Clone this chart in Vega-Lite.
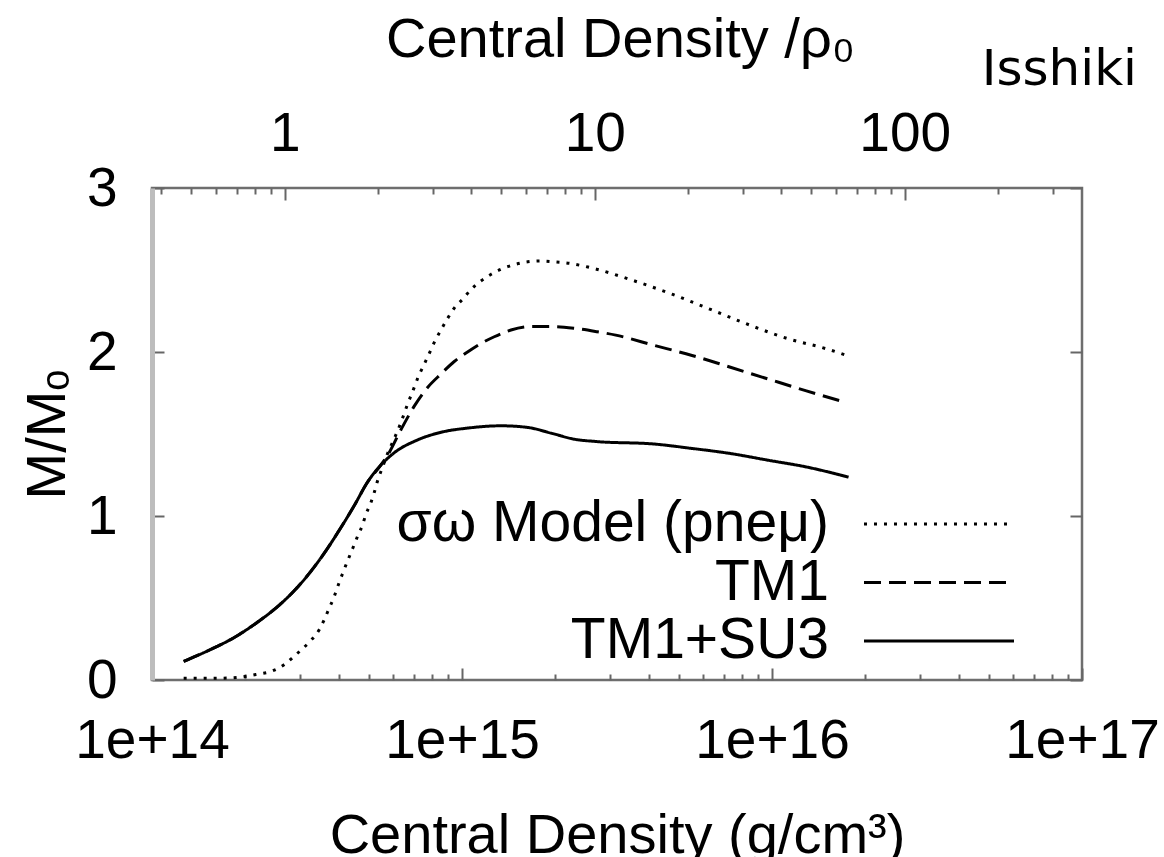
{
  "$schema": "https://vega.github.io/schema/vega-lite/v6.json",
  "width": 930,
  "height": 492,
  "autosize": {"type": "none"},
  "padding": {"left": 152, "top": 188, "right": 82, "bottom": 177},
  "background": "white",
  "title": {"text": "Isshiki", "anchor": "end", "frame": "group", "orient": "top", "font": "DejaVu Sans", "fontSize": 50, "fontWeight": "normal", "color": "black", "baseline": "alphabetic", "offset": -124, "dx": 55},
  "config": {
    "view": {"stroke": "#6e6e6e", "strokeWidth": 2.5},
    "axis": {"grid": false, "labelFont": "Liberation Sans", "titleFont": "Liberation Sans", "labelColor": "black", "titleColor": "black", "tickColor": "#666", "tickWidth": 2, "labelFlush": false, "labelOverlap": false, "titleFontWeight": "normal"}
  },
  "data": {"values": [
    {"model": "TM1+SU3", "rho": 1.265e14, "M": 0.113},
    {"model": "TM1+SU3", "rho": 1.545e14, "M": 0.186},
    {"model": "TM1+SU3", "rho": 1.837e14, "M": 0.258},
    {"model": "TM1+SU3", "rho": 2.183e14, "M": 0.351},
    {"model": "TM1+SU3", "rho": 2.600e14, "M": 0.464},
    {"model": "TM1+SU3", "rho": 3.020e14, "M": 0.588},
    {"model": "TM1+SU3", "rho": 3.499e14, "M": 0.742},
    {"model": "TM1+SU3", "rho": 4.064e14, "M": 0.928},
    {"model": "TM1+SU3", "rho": 4.487e14, "M": 1.062},
    {"model": "TM1+SU3", "rho": 4.955e14, "M": 1.206},
    {"model": "TM1+SU3", "rho": 5.470e14, "M": 1.310},
    {"model": "TM1+SU3", "rho": 6.039e14, "M": 1.385},
    {"model": "TM1+SU3", "rho": 7.194e14, "M": 1.464},
    {"model": "TM1+SU3", "rho": 8.770e14, "M": 1.515},
    {"model": "TM1+SU3", "rho": 1.042e15, "M": 1.536},
    {"model": "TM1+SU3", "rho": 1.337e15, "M": 1.550},
    {"model": "TM1+SU3", "rho": 1.629e15, "M": 1.540},
    {"model": "TM1+SU3", "rho": 1.941e15, "M": 1.505},
    {"model": "TM1+SU3", "rho": 2.307e15, "M": 1.468},
    {"model": "TM1+SU3", "rho": 2.716e15, "M": 1.454},
    {"model": "TM1+SU3", "rho": 4.159e15, "M": 1.439},
    {"model": "TM1+SU3", "rho": 5.521e15, "M": 1.412},
    {"model": "TM1+SU3", "rho": 7.345e15, "M": 1.381},
    {"model": "TM1+SU3", "rho": 9.727e15, "M": 1.340},
    {"model": "TM1+SU3", "rho": 1.291e16, "M": 1.299},
    {"model": "TM1+SU3", "rho": 1.766e16, "M": 1.237},
    {"model": "TM1", "rho": 1.265e14, "M": 0.113},
    {"model": "TM1", "rho": 1.545e14, "M": 0.186},
    {"model": "TM1", "rho": 1.837e14, "M": 0.258},
    {"model": "TM1", "rho": 2.183e14, "M": 0.351},
    {"model": "TM1", "rho": 2.600e14, "M": 0.464},
    {"model": "TM1", "rho": 3.020e14, "M": 0.588},
    {"model": "TM1", "rho": 3.499e14, "M": 0.742},
    {"model": "TM1", "rho": 4.064e14, "M": 0.928},
    {"model": "TM1", "rho": 4.487e14, "M": 1.062},
    {"model": "TM1", "rho": 4.955e14, "M": 1.206},
    {"model": "TM1", "rho": 5.470e14, "M": 1.310},
    {"model": "TM1", "rho": 5.754e14, "M": 1.370},
    {"model": "TM1", "rho": 6.353e14, "M": 1.526},
    {"model": "TM1", "rho": 7.015e14, "M": 1.670},
    {"model": "TM1", "rho": 7.745e14, "M": 1.784},
    {"model": "TM1", "rho": 8.551e14, "M": 1.866},
    {"model": "TM1", "rho": 9.441e14, "M": 1.942},
    {"model": "TM1", "rho": 1.042e15, "M": 2.000},
    {"model": "TM1", "rho": 1.151e15, "M": 2.052},
    {"model": "TM1", "rho": 1.271e15, "M": 2.093},
    {"model": "TM1", "rho": 1.439e15, "M": 2.134},
    {"model": "TM1", "rho": 1.671e15, "M": 2.155},
    {"model": "TM1", "rho": 1.941e15, "M": 2.155},
    {"model": "TM1", "rho": 2.307e15, "M": 2.144},
    {"model": "TM1", "rho": 2.716e15, "M": 2.124},
    {"model": "TM1", "rho": 3.133e15, "M": 2.103},
    {"model": "TM1", "rho": 4.159e15, "M": 2.041},
    {"model": "TM1", "rho": 5.521e15, "M": 1.979},
    {"model": "TM1", "rho": 7.345e15, "M": 1.907},
    {"model": "TM1", "rho": 9.727e15, "M": 1.835},
    {"model": "TM1", "rho": 1.291e16, "M": 1.763},
    {"model": "TM1", "rho": 1.742e16, "M": 1.691},
    {"model": "σω Model (pneμ)", "rho": 1.265e14, "M": 0.010},
    {"model": "σω Model (pneμ)", "rho": 1.545e14, "M": 0.010},
    {"model": "σω Model (pneμ)", "rho": 1.837e14, "M": 0.014},
    {"model": "σω Model (pneμ)", "rho": 2.183e14, "M": 0.035},
    {"model": "σω Model (pneμ)", "rho": 2.443e14, "M": 0.055},
    {"model": "σω Model (pneμ)", "rho": 2.667e14, "M": 0.093},
    {"model": "σω Model (pneμ)", "rho": 2.871e14, "M": 0.144},
    {"model": "σω Model (pneμ)", "rho": 3.055e14, "M": 0.190},
    {"model": "σω Model (pneμ)", "rho": 3.251e14, "M": 0.240},
    {"model": "σω Model (pneμ)", "rho": 3.459e14, "M": 0.305},
    {"model": "σω Model (pneμ)", "rho": 3.589e14, "M": 0.365},
    {"model": "σω Model (pneμ)", "rho": 3.724e14, "M": 0.435},
    {"model": "σω Model (pneμ)", "rho": 3.864e14, "M": 0.505},
    {"model": "σω Model (pneμ)", "rho": 3.981e14, "M": 0.575},
    {"model": "σω Model (pneμ)", "rho": 4.111e14, "M": 0.645},
    {"model": "σω Model (pneμ)", "rho": 4.266e14, "M": 0.722},
    {"model": "σω Model (pneμ)", "rho": 4.436e14, "M": 0.800},
    {"model": "σω Model (pneμ)", "rho": 4.603e14, "M": 0.876},
    {"model": "σω Model (pneμ)", "rho": 4.775e14, "M": 0.945},
    {"model": "σω Model (pneμ)", "rho": 4.898e14, "M": 1.010},
    {"model": "σω Model (pneμ)", "rho": 5.082e14, "M": 1.082},
    {"model": "σω Model (pneμ)", "rho": 5.212e14, "M": 1.144},
    {"model": "σω Model (pneμ)", "rho": 5.333e14, "M": 1.210},
    {"model": "σω Model (pneμ)", "rho": 5.546e14, "M": 1.299},
    {"model": "σω Model (pneμ)", "rho": 5.754e14, "M": 1.381},
    {"model": "σω Model (pneμ)", "rho": 6.039e14, "M": 1.470},
    {"model": "σω Model (pneμ)", "rho": 6.353e14, "M": 1.570},
    {"model": "σω Model (pneμ)", "rho": 6.668e14, "M": 1.680},
    {"model": "σω Model (pneμ)", "rho": 7.015e14, "M": 1.785},
    {"model": "σω Model (pneμ)", "rho": 7.194e14, "M": 1.840},
    {"model": "σω Model (pneμ)", "rho": 7.551e14, "M": 1.925},
    {"model": "σω Model (pneμ)", "rho": 7.834e14, "M": 1.990},
    {"model": "σω Model (pneμ)", "rho": 8.147e14, "M": 2.060},
    {"model": "σω Model (pneμ)", "rho": 8.551e14, "M": 2.134},
    {"model": "σω Model (pneμ)", "rho": 8.995e14, "M": 2.206},
    {"model": "σω Model (pneμ)", "rho": 9.441e14, "M": 2.268},
    {"model": "σω Model (pneμ)", "rho": 1.005e15, "M": 2.322},
    {"model": "σω Model (pneμ)", "rho": 1.069e15, "M": 2.381},
    {"model": "σω Model (pneμ)", "rho": 1.151e15, "M": 2.433},
    {"model": "σω Model (pneμ)", "rho": 1.242e15, "M": 2.474},
    {"model": "σω Model (pneμ)", "rho": 1.337e15, "M": 2.505},
    {"model": "σω Model (pneμ)", "rho": 1.476e15, "M": 2.533},
    {"model": "σω Model (pneμ)", "rho": 1.629e15, "M": 2.550},
    {"model": "σω Model (pneμ)", "rho": 1.799e15, "M": 2.555},
    {"model": "σω Model (pneμ)", "rho": 1.986e15, "M": 2.550},
    {"model": "σω Model (pneμ)", "rho": 2.234e15, "M": 2.540},
    {"model": "σω Model (pneμ)", "rho": 2.547e15, "M": 2.518},
    {"model": "σω Model (pneμ)", "rho": 2.716e15, "M": 2.505},
    {"model": "σω Model (pneμ)", "rho": 3.606e15, "M": 2.433},
    {"model": "σω Model (pneμ)", "rho": 4.786e15, "M": 2.351},
    {"model": "σω Model (pneμ)", "rho": 6.368e15, "M": 2.258},
    {"model": "σω Model (pneμ)", "rho": 8.453e15, "M": 2.165},
    {"model": "σω Model (pneμ)", "rho": 1.122e16, "M": 2.082},
    {"model": "σω Model (pneμ)", "rho": 1.489e16, "M": 2.021},
    {"model": "σω Model (pneμ)", "rho": 1.742e16, "M": 1.979}
  ]},
  "resolve": {"axis": {"x": "independent", "y": "independent"}},
  "layer": [
    {
      "mark": {"type": "line", "color": "black", "strokeWidth": 3, "strokeCap": "butt", "interpolate": "monotone"},
      "encoding": {
        "x": {"field": "rho", "type": "quantitative", "scale": {"type": "log", "domain": [1e14, 1e17], "nice": false},
          "axis": {"orient": "bottom", "values": [1e14, 1e15, 1e16, 1e17], "labelExpr": "'1e+' + round(log(datum.value)/LN10)", "tickSize": -12, "domain": false, "labelFontSize": 55, "labelPadding": 46,
            "title": "Central Density (g/cm³)", "titleFontSize": 56, "titleBaseline": "alphabetic", "titleY": 172, "titleX": 465}},
        "y": {"field": "M", "type": "quantitative", "scale": {"domain": [0, 3], "nice": false, "zero": false},
          "axis": {"orient": "left", "values": [0, 1, 2, 3], "tickSize": -12, "domain": true, "domainColor": "#bdbdbd", "domainWidth": 5, "labelFontSize": 55, "labelPadding": 47,
            "title": "M/Mₒ", "titleFontSize": 56, "titleBaseline": "alphabetic", "titleAngle": -90, "titleX": -88, "titleY": 246, "titleAlign": "center"}},
        "strokeDash": {"field": "model", "type": "nominal",
          "scale": {"domain": ["σω Model (pneμ)", "TM1", "TM1+SU3"], "range": [[3, 7], [17, 8], [1, 0]]},
          "legend": {"orient": "none", "legendX": 758.5, "legendY": 307.5, "title": null, "padding": 0, "symbolType": "M-6,0H6", "symbolSize": 625, "symbolStrokeWidth": 3, "symbolStrokeColor": "black", "symbolFillColor": "transparent",
            "labelAlign": "right", "labelOffset": -138.5, "labelFont": "Liberation Sans", "labelFontSize": 57, "labelColor": "black", "labelLimit": 2000, "rowPadding": 0.5}}
      }
    },
    {
      "mark": {"type": "point", "opacity": 0},
      "encoding": {
        "x": {"field": "rho", "type": "quantitative", "scale": {"type": "log", "domain": [1e14, 1e17], "nice": false},
          "axis": {"orient": "bottom", "values": [2e14, 3e14, 4e14, 5e14, 6e14, 7e14, 8e14, 9e14, 2e15, 3e15, 4e15, 5e15, 6e15, 7e15, 8e15, 9e15, 2e16, 3e16, 4e16, 5e16, 6e16, 7e16, 8e16, 9e16], "tickSize": -6, "labels": false, "domain": false, "title": null}},
        "y": {"field": "M", "type": "quantitative", "scale": {"domain": [0, 3], "nice": false, "zero": false},
          "axis": {"orient": "right", "values": [0, 1, 2, 3], "tickSize": -12, "labels": false, "domain": false, "title": null}}
      }
    },
    {
      "mark": {"type": "point", "opacity": 0},
      "encoding": {
        "x": {"field": "rho", "type": "quantitative", "scale": {"type": "log", "domain": [1e14, 1e17], "nice": false},
          "axis": {"orient": "top", "values": [2.68e14, 2.68e15, 2.68e16], "labelExpr": "'' + round(datum.value/2.68e14)", "tickSize": -12, "domain": false, "labelFontSize": 55, "labelPadding": 38,
            "title": "Central Density /ρ₀", "titleFontSize": 56, "titleBaseline": "alphabetic", "titleY": -132, "titleX": 468}},
        "y": {"field": "M", "type": "quantitative", "axis": null}
      }
    },
    {
      "mark": {"type": "point", "opacity": 0},
      "encoding": {
        "x": {"field": "rho", "type": "quantitative", "scale": {"type": "log", "domain": [1e14, 1e17], "nice": false},
          "axis": {"orient": "top", "values": [1.072e14, 1.34e14, 1.608e14, 1.876e14, 2.144e14, 2.412e14, 5.36e14, 8.04e14, 1.072e15, 1.34e15, 1.608e15, 1.876e15, 2.144e15, 2.412e15, 5.36e15, 8.04e15, 1.072e16, 1.34e16, 1.608e16, 1.876e16, 2.144e16, 2.412e16, 5.36e16, 8.04e16], "tickSize": -6, "labels": false, "domain": false, "title": null}},
        "y": {"field": "M", "type": "quantitative", "axis": null}
      }
    }
  ]
}
